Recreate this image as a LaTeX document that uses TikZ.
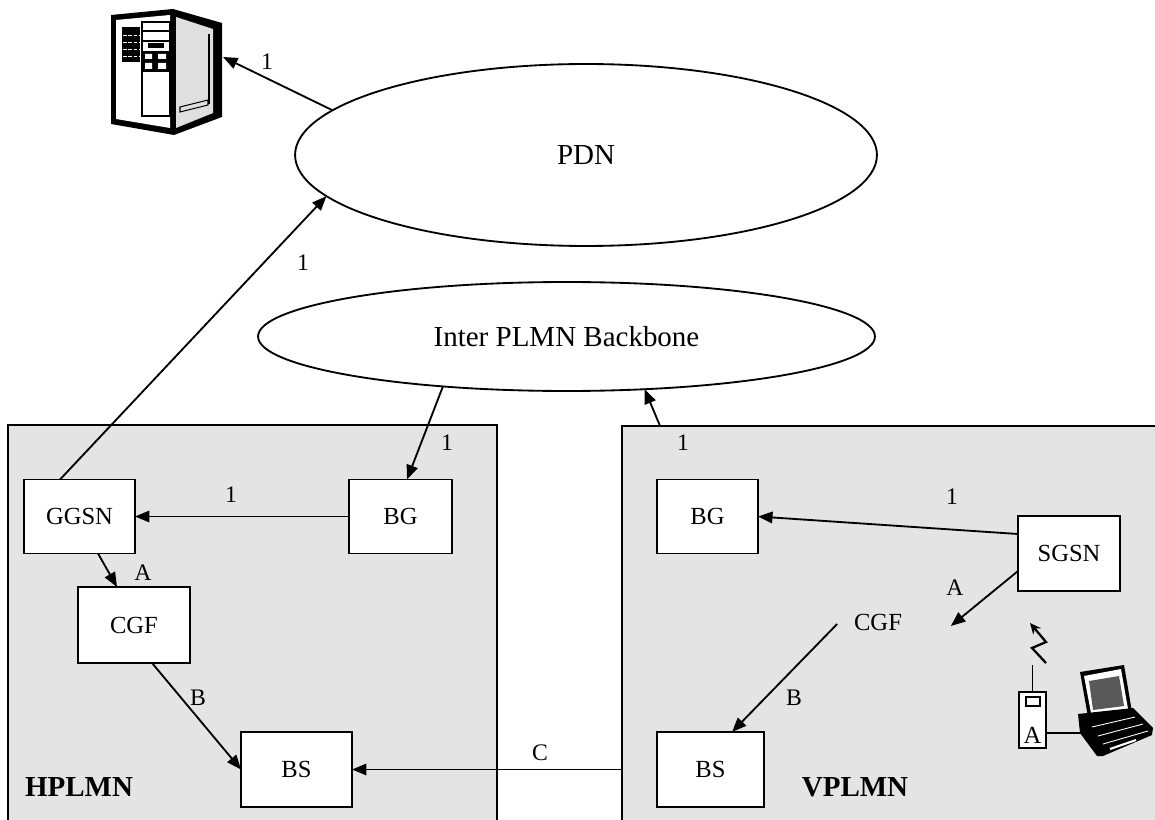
\documentclass[tikz,border=0pt]{standalone}
\usepackage{fontspec}
\setmainfont{Liberation Serif}
\usepackage{xcolor}
\usepackage{tikz}
\usetikzlibrary{arrows.meta,shapes.geometric,calc}
\definecolor{plmngray}{RGB}{228,228,228}

\begin{document}
\begin{tikzpicture}[x=0.02cm,y=-0.02cm,line width=1.05pt,
   font=\fontsize{13.5}{15}\selectfont,
   >={Triangle[length=2.9mm,width=2.3mm]},
   region/.style={draw,fill=plmngray,inner sep=0,outer sep=0},
   netw/.style={draw,ellipse,fill=white,inner sep=0,outer sep=0,font=\fontsize{16.5}{19}\selectfont},
   box/.style={draw,fill=white,inner sep=0,outer sep=0,minimum height=1.48cm,font=\fontsize{14}{16}\selectfont},
   lbl/.style={inner sep=0},
   plmn/.style={inner sep=0,font=\fontsize{16.5}{19}\selectfont\bfseries}]
   \useasboundingbox (0,0) rectangle (1155,820);
   \clip (0,0) rectangle (1155,820);
   % networks
   \node[region,minimum width=9.78cm,minimum height=8.1cm] (hplmn) at (252.5,627.5) {};
   \node[region,minimum width=10.86cm,minimum height=8.08cm] (vplmn) at (893.5,628) {};
   \node[netw,minimum width=11.64cm,minimum height=3.64cm] (pdn) at (586,155) {PDN};
   \node[netw,minimum width=12.34cm,minimum height=2.18cm] (backbone) at (566.5,336.5) {Inter PLMN Backbone};
   \node[plmn] (hname) at (79,787) {HPLMN};
   \node[plmn] (vname) at (855,787) {VPLMN};
   % HPLMN
   \node[box,minimum width=2.22cm] (ggsn) at (79.5,516.5) {GGSN};
   \node[box,minimum width=2.06cm] (bgh) at (400.5,516.5) {BG};
   \node[box,minimum width=2.24cm,minimum height=1.52cm] (cgfh) at (134,625) {CGF};
   \node[box,minimum width=2.22cm,minimum height=1.5cm] (bsh) at (296.5,769.5) {BS};
   % VPLMN
   \node[box,minimum width=2.02cm] (bgv) at (707.5,516.5) {BG};
   \node[box,minimum width=2.04cm,minimum height=1.5cm] (sgsn) at (1069,553.5) {SGSN};
   \node[lbl,font=\fontsize{14}{16}\selectfont] (cgfv) at (878,622) {CGF};
   \node[box,minimum width=2.14cm,minimum height=1.5cm] (bsv) at (710.5,769.5) {BS};
   % server
   \fill (111,15) -- (173,9) -- (222,23) -- (222,117) -- (174,135) -- (111,124) -- cycle;
   \fill[white] (116,20) -- (170,15) -- (170,128) -- (116,119) -- cycle;
   \fill[gray!25] (176,17) -- (213,29) -- (213,113) -- (176,128) -- cycle;
   \draw[line width=1.2pt] (209,34) -- (209,104);
   \fill (122,27) rectangle (140,62);
   \foreach \y in {35,42,49,56}
      \draw[white,line width=0.3pt,dash pattern=on 2pt off 1pt] (123,\y) -- (139,\y);
   \draw[line width=0.6pt] (142,22) rectangle (170,116);
   \draw[line width=0.6pt] (142,31) -- (170,31) (142,41) -- (170,41);
   \fill (148,43) rectangle (164,48);
   \fill (142,51) rectangle (170,72);
   \fill[white] (145,54) rectangle (152,59) (158,54) rectangle (166,59)
      (145,63) rectangle (152,69) (158,63) rectangle (166,69);
   \draw[line width=0.6pt] (180,107) -- (208,100) -- (208,105) -- (180,112) -- cycle;
   \coordinate (srvport) at (223,57);
   % mobile station
   \node[draw,fill=white,inner sep=0,outer sep=0,minimum width=0.54cm,minimum height=1.12cm] (ms) at (1032.5,720) {};
   \draw[line width=0.7pt] (1026,697) rectangle (1040,706);
   \node[lbl,font=\fontsize{14}{16}\selectfont] (msa) at (1032.5,735) {A};
   \draw (ms.north) -- ++(0,-27);
   \draw[line width=1.3pt,-{Stealth[length=2.2mm,width=2mm]}] (1046,663) -- (1032,648) -- (1046,642) -- (1030,623);
   % laptop
   \fill (1080,672) -- (1124,665) -- (1132,712) -- (1088,717) -- cycle;
   \fill[white] (1084,676) -- (1121,669) -- (1128,709) -- (1091,713) -- cycle;
   \fill[gray!70!black] (1089,681) -- (1119,676) -- (1124,706) -- (1093,710) -- cycle;
   \fill (1078,714) -- (1133,708) -- (1153,728) -- (1152,735) -- (1103,756) -- (1097,756) -- (1080,733) -- cycle;
   \draw[white,line width=0.5pt] (1092,727) -- (1135,717) (1098,736) -- (1143,724) (1103,744) -- (1148,731);
   \draw[white,line width=1.2pt] (1110,749) -- (1136,740);
   \coordinate (lapport) at (1086,733);
   \draw (ms.east |- lapport) -- (lapport);
   % links
   \draw[->] (pdn.170.5) -- (srvport);
   \node[lbl] (l1) at (267,62) {1};
   \draw[->] ($(ggsn.north west)+(36,0)$) -- (pdn.189.7);
   \node[lbl] (l2) at (303,263) {1};
   \draw[->] (backbone.-158.6) -- ($(bgh.north west)+(58,0)$);
   \node[lbl] (l3) at (447,443) {1};
   \draw[->] (bgh.west) -- (ggsn.east);
   \node[lbl] (l4) at (231,495) {1};
   \draw[->] ($(ggsn.south west)+(74,0)$) -- ($(cgfh.north west)+(39,0)$);
   \node[lbl] (la1) at (143,573) {A};
   \draw[->] ($(cgfh.south west)+(74,0)$) -- (bsh.west);
   \node[lbl] (lb1) at (198,698) {B};
   \draw[->] (vplmn.west |- bsh.east) -- (bsh.east);
   \node[lbl] (lc) at (540,753) {C};
   \draw[->] ($(vplmn.north west)+(38,0)$) -- (backbone.-34.6);
   \node[lbl] (l5) at (683,443) {1};
   \draw[->] ($(sgsn.north west)+(0,18)$) -- (bgv.east);
   \node[lbl] (l6) at (952,497) {1};
   \draw[->] ($(sgsn.north west)+(0,55)$) -- ($(cgfv.east)+(48,4)$);
   \node[lbl] (la2) at (955,588) {A};
   \draw[->] ($(cgfv.west)+(-16,2)$) -- ($(bsv.north west)+(75,0)$);
   \node[lbl] (lb2) at (794,698) {B};
\end{tikzpicture}
\end{document}
